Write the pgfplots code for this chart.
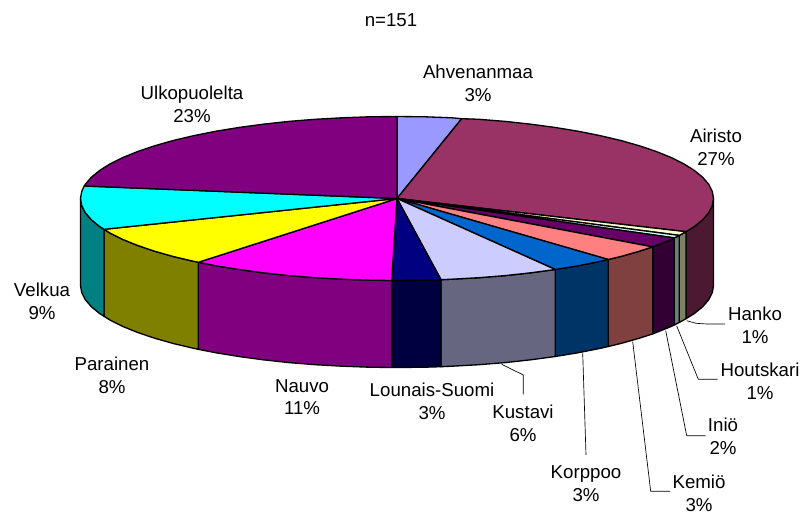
\documentclass[border=0pt]{standalone}
\usepackage{fontspec}
\setmainfont{Liberation Sans}
\usepackage{pgfplots}
\pgfplotsset{compat=1.18}
\definecolor{cAhv}{HTML}{9999FF}
\definecolor{cAir}{HTML}{993366}
\definecolor{cHan}{HTML}{FFFFCC}
\definecolor{cHou}{HTML}{CCFFFF}
\definecolor{cIni}{HTML}{660066}
\definecolor{cKem}{HTML}{FF8080}
\definecolor{cKor}{HTML}{0066CC}
\definecolor{cKus}{HTML}{CCCCFF}
\definecolor{cLou}{HTML}{000080}
\definecolor{cNau}{HTML}{FF00FF}
\definecolor{cPar}{HTML}{FFFF00}
\definecolor{cVel}{HTML}{00FFFF}
\definecolor{cUlk}{HTML}{800080}
\definecolor{dAir}{HTML}{4C1933}
\definecolor{dHan}{HTML}{808066}
\definecolor{dHou}{HTML}{668080}
\definecolor{dIni}{HTML}{330033}
\definecolor{dKem}{HTML}{804040}
\definecolor{dKor}{HTML}{003366}
\definecolor{dKus}{HTML}{666680}
\definecolor{dLou}{HTML}{000040}
\definecolor{dNau}{HTML}{800080}
\definecolor{dPar}{HTML}{808000}
\definecolor{dVel}{HTML}{008080}
\tikzset{
  lab/.style={font=\fontsize{14}{17}\selectfont, align=center, anchor=center, inner sep=0pt},
  lead/.style={draw=black, line width=0.5pt, fill=none, line join=miter},
}
\begin{document}
\begin{tikzpicture}
\begin{axis}[
  scale only axis, width=602.25pt, height=387pt,
  xmin=0, xmax=803, ymin=0, ymax=516, y dir=reverse,
  clip=false, axis line style={draw=none}, ticks=none,
  every axis plot/.append style={draw=black, line width=1pt, line join=round, mark=none},
]
% side walls
\addplot[fill=dAir] coordinates {(713.5,198.5)(712.3,205.6)(708.7,212.7)(702.7,219.7)(694.4,226.5)(686,231.7)(686,318.7)(694.4,313.5)(702.7,306.7)(708.7,299.7)(712.3,292.6)(713.5,285.5)(713.5,198.5)};
\addplot[fill=dHan] coordinates {(686,231.7)(679.3,235.4)(679.3,322.4)(686,318.7)(686,231.7)};
\addplot[fill=dHou] coordinates {(679.3,235.4)(674.3,237.9)(674.3,324.9)(679.3,322.4)(679.3,235.4)};
\addplot[fill=dIni] coordinates {(674.3,237.9)(671.1,239.5)(656.3,245.5)(652.7,246.9)(652.7,333.9)(656.3,332.5)(671.1,326.5)(674.3,324.9)(674.3,237.9)};
\addplot[fill=dKem] coordinates {(652.7,246.9)(639.4,251.2)(620.8,256.5)(608.3,259.5)(608.3,346.5)(620.8,343.5)(639.4,338.2)(652.7,333.9)(652.7,246.9)};
\addplot[fill=dKor] coordinates {(608.3,259.5)(600.4,261.3)(578.5,265.7)(555.3,269.5)(555.3,356.5)(578.5,352.7)(600.4,348.3)(608.3,346.5)(608.3,259.5)};
\addplot[fill=dKus] coordinates {(555.3,269.5)(530.8,272.8)(505.2,275.6)(478.9,277.7)(451.9,279.2)(441,279.7)(441,366.7)(451.9,366.2)(478.9,364.7)(505.2,362.6)(530.8,359.8)(555.3,356.5)(555.3,269.5)};
\addplot[fill=dLou] coordinates {(441,279.7)(424.6,280.2)(397,280.5)(391.7,280.5)(391.7,367.5)(397,367.5)(424.6,367.2)(441,366.7)(441,279.7)};
\addplot[fill=dNau] coordinates {(391.7,280.5)(369.4,280.2)(342.1,279.2)(315.1,277.7)(288.8,275.6)(263.2,272.8)(238.7,269.5)(215.5,265.7)(198.3,262.3)(198.3,349.3)(215.5,352.7)(238.7,356.5)(263.2,359.8)(288.8,362.6)(315.1,364.7)(342.1,366.2)(369.4,367.2)(391.7,367.5)(391.7,280.5)};
\addplot[fill=dPar] coordinates {(198.3,262.3)(193.6,261.3)(173.2,256.5)(154.6,251.2)(137.7,245.5)(122.9,239.5)(110.2,233.2)(104,229.3)(104,316.3)(110.2,320.2)(122.9,326.5)(137.7,332.5)(154.6,338.2)(173.2,343.5)(193.6,348.3)(198.3,349.3)(198.3,262.3)};
\addplot[fill=dVel] coordinates {(104,229.3)(99.6,226.5)(91.3,219.7)(85.3,212.7)(81.7,205.6)(80.5,198.5)(80.5,285.5)(81.7,292.6)(85.3,299.7)(91.3,306.7)(99.6,313.5)(104,316.3)(104,229.3)};
% top face
\addplot[fill=cAhv] coordinates {(397,198.5)(397,116.5)(424.6,116.8)(451.9,117.8)(461.7,118.7)(397,198.5)};
\addplot[fill=cAir] coordinates {(397,198.5)(461.7,118.7)(478.9,119.3)(505.2,121.4)(530.8,124.2)(555.3,127.5)(578.5,131.3)(600.4,135.7)(620.8,140.5)(639.4,145.8)(656.3,151.5)(671.1,157.5)(683.8,163.8)(694.4,170.5)(702.7,177.3)(708.7,184.3)(712.3,191.4)(713.5,198.5)(712.3,205.6)(708.7,212.7)(702.7,219.7)(694.4,226.5)(686,231.7)(397,198.5)};
\addplot[fill=cHan] coordinates {(397,198.5)(686,231.7)(679.3,235.4)(397,198.5)};
\addplot[fill=cHou] coordinates {(397,198.5)(679.3,235.4)(674.3,237.9)(397,198.5)};
\addplot[fill=cIni] coordinates {(397,198.5)(674.3,237.9)(671.1,239.5)(656.3,245.5)(652.7,246.9)(397,198.5)};
\addplot[fill=cKem] coordinates {(397,198.5)(652.7,246.9)(639.4,251.2)(620.8,256.5)(608.3,259.5)(397,198.5)};
\addplot[fill=cKor] coordinates {(397,198.5)(608.3,259.5)(600.4,261.3)(578.5,265.7)(555.3,269.5)(397,198.5)};
\addplot[fill=cKus] coordinates {(397,198.5)(555.3,269.5)(530.8,272.8)(505.2,275.6)(478.9,277.7)(451.9,279.2)(441,279.7)(397,198.5)};
\addplot[fill=cLou] coordinates {(397,198.5)(441,279.7)(424.6,280.2)(397,280.5)(391.7,280.5)(397,198.5)};
\addplot[fill=cNau] coordinates {(397,198.5)(391.7,280.5)(369.4,280.2)(342.1,279.2)(315.1,277.7)(288.8,275.6)(263.2,272.8)(238.7,269.5)(215.5,265.7)(198.3,262.3)(397,198.5)};
\addplot[fill=cPar] coordinates {(397,198.5)(198.3,262.3)(193.6,261.3)(173.2,256.5)(154.6,251.2)(137.7,245.5)(122.9,239.5)(110.2,233.2)(104,229.3)(397,198.5)};
\addplot[fill=cVel] coordinates {(397,198.5)(104,229.3)(99.6,226.5)(91.3,219.7)(85.3,212.7)(81.7,205.6)(80.5,198.5)(81.7,191.4)(84.3,186)(397,198.5)};
\addplot[fill=cUlk] coordinates {(397,198.5)(84.3,186)(85.3,184.3)(91.3,177.3)(99.6,170.5)(110.2,163.8)(122.9,157.5)(137.7,151.5)(154.6,145.8)(173.2,140.5)(193.6,135.7)(215.5,131.3)(238.7,127.5)(263.2,124.2)(288.8,121.4)(315.1,119.3)(342.1,117.8)(369.4,116.8)(397,116.5)(397,198.5)};
% leader lines
\addplot[lead] coordinates {(686.7,320.7)(696,323.3)(706.7,324)(725,324)};
\addplot[lead] coordinates {(676.7,326)(698.3,379.3)(717.7,379.3)};
\addplot[lead] coordinates {(665.7,330.7)(686.7,435.7)(705.7,435.7)};
\addplot[lead] coordinates {(632.7,341.7)(650.7,491.3)(670,491.3)};
\addplot[lead] coordinates {(582.7,353.3)(586,455)};
\addplot[lead] coordinates {(501.7,364.3)(523.3,375)(523.3,394.3)};
% labels
\node[lab] at (axis cs:391,20) {n=151};
\node[lab] at (axis cs:478,83) {Ahvenanmaa\\3\%};
\node[lab] at (axis cs:716,147) {Airisto\\27\%};
\node[lab] at (axis cs:192,104) {Ulkopuolelta\\23\%};
\node[lab] at (axis cs:42,301) {Velkua\\9\%};
\node[lab] at (axis cs:112,375) {Parainen\\8\%};
\node[lab] at (axis cs:302,397) {Nauvo\\11\%};
\node[lab] at (axis cs:432,401) {Lounais-Suomi\\3\%};
\node[lab] at (axis cs:523,423) {Kustavi\\6\%};
\node[lab] at (axis cs:586,484) {Korppoo\\3\%};
\node[lab] at (axis cs:699,493) {Kemiö\\3\%};
\node[lab] at (axis cs:723,436) {Iniö\\2\%};
\node[lab] at (axis cs:760,381) {Houtskari\\1\%};
\node[lab] at (axis cs:755,325) {Hanko\\1\%};
\end{axis}
\end{tikzpicture}
\end{document}
